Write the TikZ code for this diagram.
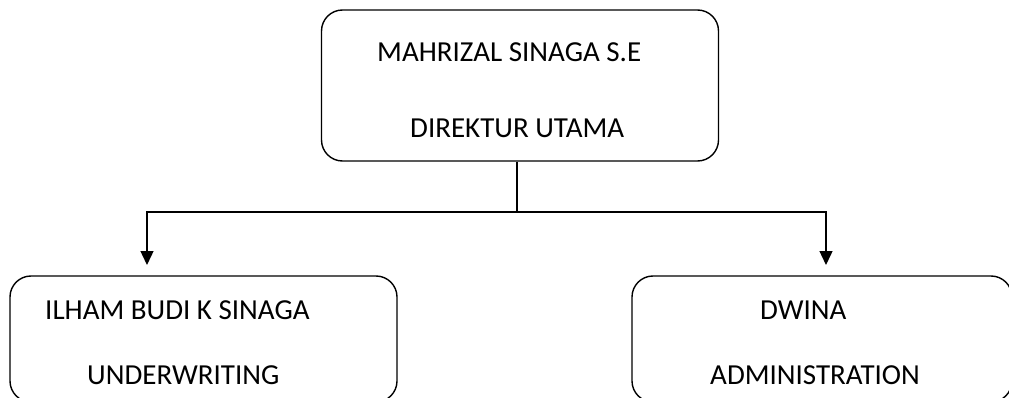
\documentclass[tikz,border=0pt]{standalone}
\usepackage{fontspec}
\setmainfont{Carlito}
\usetikzlibrary{arrows.meta}

\tikzset{
  unitbox/.style={draw=black, line width=1.4pt, rounded corners=21pt, inner sep=0pt},
  unittext/.style={anchor=base west, inner sep=0pt, font=\fontsize{29}{34}\selectfont},
  link/.style={line width=1.4pt},
  linkarrow/.style={link, -{Triangle[width=13pt,length=14pt]}}
}

\begin{document}
\begin{tikzpicture}[x=1pt, y=-1pt]
    \useasboundingbox (0,0) rectangle (1009,398);

    % boxes
    \node[unitbox, minimum width=387pt, minimum height=126pt] (underwriting) at (203.5,339) {};
    \node[unitbox, minimum width=380pt, minimum height=126pt] (admin) at (822,339) {};
    \node[unitbox, minimum width=397pt, minimum height=151pt] (direktur) at (520,85.5) {};

    % texts
    \node[unittext] (direkturname) at (377,62) {MAHRIZAL SINAGA S.E};
    \node[unittext] (direkturjob) at (410,138) {DIREKTUR UTAMA};
    \node[unittext] (underwritingname) at (45,319) {ILHAM BUDI K SINAGA};
    \node[unittext] (underwritingjob) at (87,384) {UNDERWRITING};
    \node[unittext] (adminname) at (760,319) {DWINA};
    \node[unittext] (adminjob) at (710,384) {ADMINISTRATION};

    % connectors
    \coordinate (split) at (517,212);
    \coordinate (lefttip) at (147,265);
    \coordinate (righttip) at (826,265);
    \draw[link] (split |- direktur.south) -- (split);
    \draw[linkarrow] (split) -| (lefttip);
    \draw[linkarrow] (split) -| (righttip);

\end{tikzpicture}
\end{document}
